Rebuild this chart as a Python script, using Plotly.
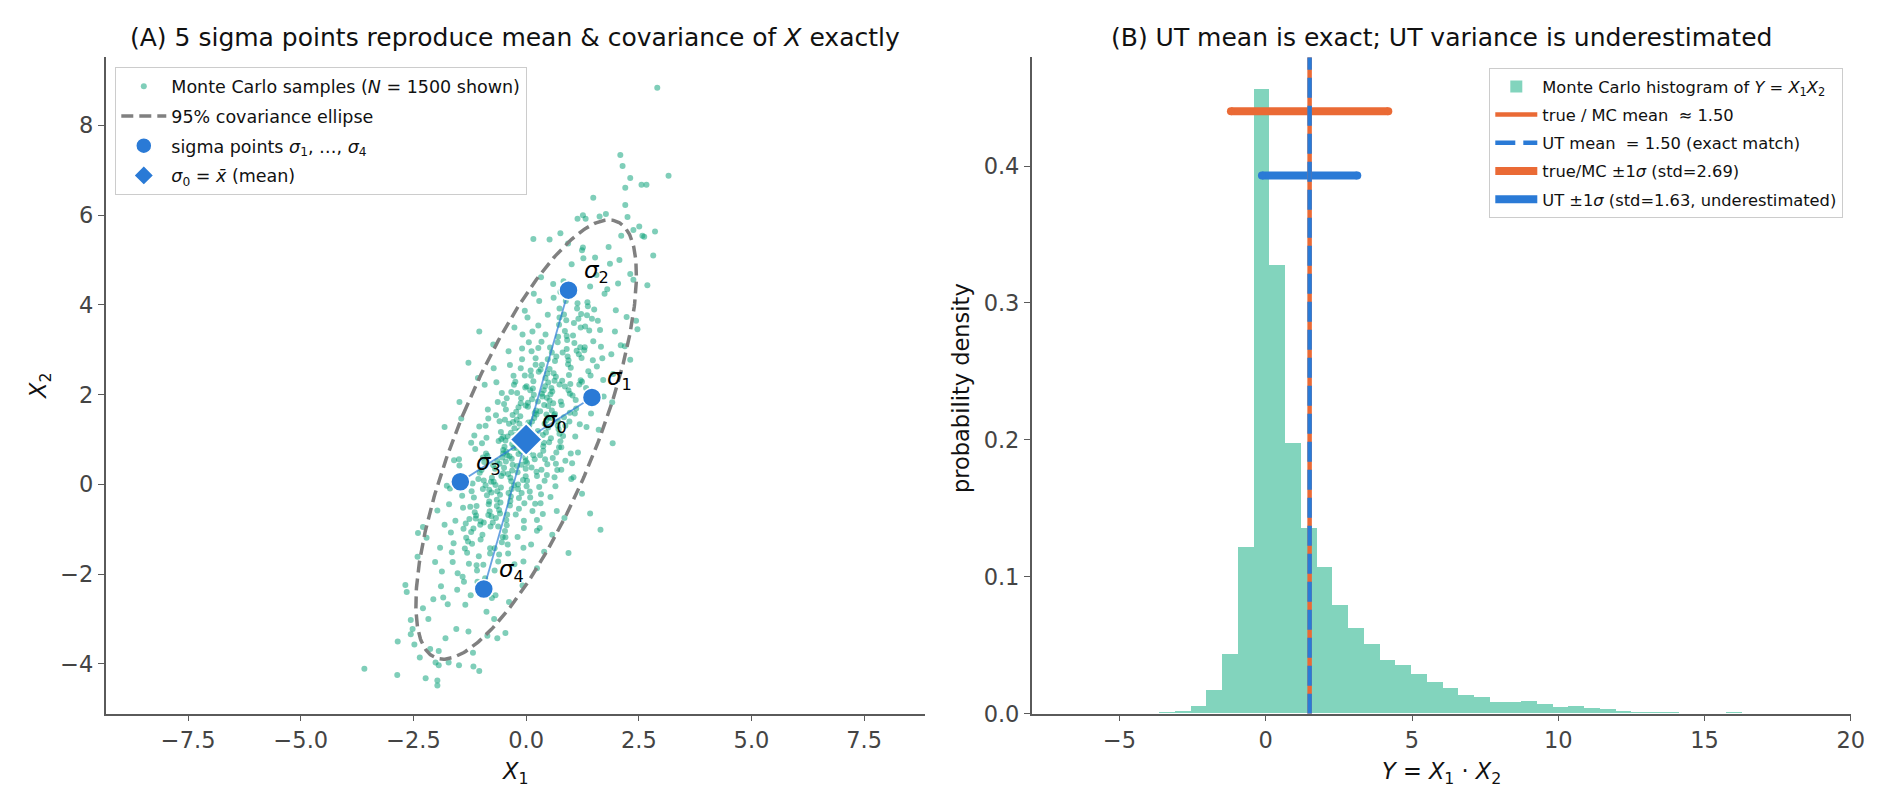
import numpy as np
import plotly.graph_objects as go

# ---------------- data ----------------
# Monte Carlo samples (X1, X2) - estimated positions of the visible cloud
mc_samples = [
    (0.13,1.40),(0.02,0.08),(0.21,2.81),(0.08,0.82),(0.17,2.00),(0.24,-1.03),(0.05,1.26),(0.11,2.42),(0.19,0.56),(0.03,3.72),
    (0.15,1.06),(0.22,1.65),(0.09,-0.29),(0.01,2.19),(0.18,0.90),(0.12,0.38),(0.06,3.17),(0.23,1.56),(0.14,-0.59),(0.04,1.82),
    (0.20,1.12),(0.10,2.54),(0.16,0.65),(0.07,1.32),(0.24,-1.87),(0.09,2.10),(0.01,-0.04),(0.18,1.48),(0.12,2.97),(0.06,0.73),
    (0.23,0.28),(0.14,3.41),(0.04,1.73),(0.20,-0.43),(0.10,1.19),(0.16,2.30),(0.07,0.98),(0.24,-0.79),(0.13,1.90),(0.02,0.48),
    (0.21,2.67),(0.08,-0.16),(0.17,4.25),(0.24,0.19),(0.05,1.38),(0.11,-1.34),(0.19,1.59),(0.03,0.79),(0.15,2.14),
    (-0.01,1.76),(-0.20,0.41),(-0.14,1.21),(-0.06,-1.72),(-0.22,1.00),(-0.10,-0.19),(-0.03,3.87),(-0.16,-0.54),(-0.24,2.29),(-0.07,0.10),
    (-0.13,1.52),(-0.19,-1.17),(-0.02,0.60),(-0.11,1.92),(-0.21,0.81),(-0.05,-0.81),(-0.15,1.35),(-0.09,3.03),(-0.18,-0.10),(-0.01,0.35),
    (-0.12,2.59),(-0.23,1.10),(-0.04,-0.42),(-0.17,1.72),(-0.08,-2.25),(-0.13,0.94),(-0.19,0.27),(-0.02,2.16),(-0.11,0.74),(-0.21,1.44),
    (-0.05,-0.97),(-0.15,1.18),(-0.09,2.79),(-0.18,0.00),(-0.01,0.52),(-0.12,1.81),(-0.23,-0.67),(-0.04,1.27),(-0.17,0.68),(-0.08,3.34),
    (-0.01,0.18),(-0.20,2.04),(-0.14,0.88),(-0.06,-1.41),(-0.22,1.62),(-0.10,0.44),(-0.03,2.43),(-0.16,-0.30),(-0.24,1.02),
    (0.40,-1.50),(0.47,2.47),(0.34,0.33),(0.26,1.85),(0.43,3.34),(0.37,1.10),(0.31,0.65),(0.48,3.78),(0.39,2.10),(0.29,-0.06),
    (0.45,1.56),(0.35,2.67),(0.41,1.35),(0.32,-0.42),(0.49,2.27),(0.38,0.85),(0.27,3.04),(0.46,0.21),(0.33,4.62),(0.42,0.56),
    (0.49,1.75),(0.30,-0.97),(0.36,1.96),(0.44,1.16),(0.28,2.51),(0.40,1.77),(0.47,0.45),(0.34,3.18),(0.26,1.19),(0.43,2.37),
    (0.37,-0.66),(0.31,1.63),(0.48,2.79),(0.39,0.93),(0.29,4.09),(0.45,1.43),(0.35,2.02),(0.41,0.08),(0.32,2.56),(0.49,1.27),
    (0.38,0.75),(0.27,3.54),(0.46,1.93),(0.33,-0.22),(0.42,2.19),(0.49,1.49),
    (-0.42,0.65),(-0.33,2.06),(-0.26,1.25),(-0.45,0.51),(-0.39,-0.19),(-0.31,0.31),(-0.47,-1.04),(-0.35,0.15),(-0.28,2.42),(-0.41,-1.34),
    (-0.49,0.37),(-0.32,-0.10),(-0.38,-2.62),(-0.44,-0.79),(-0.27,2.22),(-0.36,-0.47),(-0.46,0.98),(-0.30,0.44),(-0.40,0.23),(-0.34,1.15),
    (-0.43,1.92),(-0.26,3.50),(-0.37,0.63),(-0.48,0.84),(-0.29,1.39),(-0.42,-0.67),(-0.33,0.07),(-0.26,-1.78),(-0.45,1.67),(-0.39,2.97),
    (-0.31,0.90),(-0.47,1.44),(-0.35,-0.37),(-0.28,0.81),(-0.41,1.07),(-0.49,1.79),(-0.32,0.57),(-0.38,1.35),(-0.44,0.73),(-0.27,-0.02),
    (-0.36,2.66),(-0.46,-1.18),(-0.30,1.55),(-0.40,-1.54),(-0.34,-0.27),(-0.43,-0.91),
    (0.73,0.83),(0.64,1.57),(0.54,-0.28),(0.70,3.17),(0.60,4.47),(0.66,2.40),(0.57,2.94),(0.74,1.13),(0.63,2.31),(0.52,2.57),
    (0.71,3.29),(0.58,2.07),(0.67,2.85),(0.74,2.23),(0.55,1.48),(0.61,4.16),(0.69,0.32),(0.53,3.05),(0.65,-0.04),(0.72,1.23),
    (0.59,0.59),(0.51,0.94),(0.68,-0.59),(0.62,1.54),(0.56,2.15),(0.73,3.56),(0.64,2.75),(0.54,2.01),(0.70,1.31),(0.60,1.81),
    (0.66,0.46),(0.57,1.65),(0.74,3.92),(0.63,0.16),(0.52,1.87),(0.71,1.40),(0.58,-1.12),(0.67,0.71),(0.74,3.72),(0.55,1.03),(0.61,2.48),
    (-0.55,1.01),(-0.65,-0.34),(-0.59,0.46),(-0.68,-2.47),(-0.51,0.25),(-0.62,-0.94),(-0.73,3.12),(-0.54,-1.29),(-0.67,1.54),(-0.58,-0.65),
    (-0.51,0.77),(-0.70,-1.92),(-0.64,-0.15),(-0.56,1.17),(-0.72,0.06),(-0.60,-1.56),(-0.53,0.60),(-0.66,2.28),(-0.74,-0.85),(-0.57,-0.40),
    (-0.63,1.84),(-0.69,0.35),(-0.52,-1.17),(-0.61,0.97),(-0.71,-3.00),(-0.55,0.19),(-0.65,-0.48),(-0.59,1.41),(-0.68,-0.01),(-0.51,0.69),
    (-0.62,-1.72),(-0.73,0.43),(-0.54,2.04),(-0.67,-0.75),(-0.58,-0.23),(-0.51,1.06),(-0.70,-1.42),(-0.64,0.52),(-0.56,-0.07),(-0.72,2.59),(-0.60,-0.57),
    (0.86,2.18),(0.94,2.77),(0.78,0.83),(0.90,3.31),(0.97,2.02),(0.84,1.50),(0.76,4.29),(0.93,2.68),(0.87,0.53),(0.81,2.94),
    (0.98,2.24),(0.89,3.66),(0.79,1.77),(0.95,2.44),(0.85,-0.75),(0.91,3.22),(0.82,1.08),(0.99,2.60),(0.88,4.09),(0.77,1.85),
    (0.96,1.40),(0.83,4.53),(0.92,2.85),(0.99,0.69),(0.80,2.31),(0.86,3.42),(0.94,2.10),(0.78,0.33),(0.90,3.02),(0.97,1.60),
    (0.84,3.79),(0.76,0.96),(0.93,5.37),(0.87,1.31),
    (-0.82,-0.12),(-0.88,-2.84),(-0.94,0.09),(-0.77,-0.71),(-0.86,0.64),(-0.96,-0.10),(-0.80,-1.42),(-0.90,1.31),(-0.84,-0.68),(-0.93,0.50),
    (-0.76,-2.53),(-0.87,-0.24),(-0.98,0.92),(-0.79,-0.94),(-0.92,2.22),(-0.83,-0.44),(-0.76,0.15),(-0.95,-1.79),(-0.89,0.69),(-0.81,-0.60),
    (-0.97,-1.12),(-0.85,1.67),(-0.78,0.06),(-0.91,-2.09),(-0.99,0.32),(-0.82,-0.38),(-0.88,1.04),(-0.94,-0.85),(-0.77,-0.18),(-0.86,-3.37),
    (-0.96,0.60),(-0.80,-1.54),(-0.90,-0.02),(-0.84,1.47),
    (1.21,3.50),(1.08,4.31),(1.17,2.90),(1.24,2.29),(1.05,0.16),(1.11,1.69),(1.19,1.34),(1.03,1.98),(1.15,0.71),(1.22,3.80),
    (1.09,1.07),(1.01,4.91),(1.18,2.23),(1.12,2.98),(1.06,3.60),(1.23,2.82),(1.14,4.04),(1.04,3.32),(1.20,3.06),(1.10,1.88),
    (1.16,3.69),(1.07,3.15),(1.24,5.22),(1.13,3.92),(1.02,0.47),(1.21,2.32),(1.08,1.58),
    (-1.22,-1.06),(-1.10,-1.80),(-1.03,0.26),(-1.16,-0.29),(-1.24,-0.50),(-1.07,2.37),(-1.13,0.79),(-1.19,0.02),(-1.02,-0.90),(-1.11,-0.69),
    (-1.21,-0.15),(-1.05,-1.60),(-1.15,1.09),(-1.09,-1.92),(-1.18,-3.75),(-1.01,-1.23),(-1.12,-0.76),(-1.23,-2.47),(-1.04,1.29),(-1.17,-0.98),
    (-1.08,-2.17),(-1.01,-0.82),(-1.20,-1.32),(-1.14,-0.62),(-1.06,0.12),(-1.22,0.93),(-1.10,-0.48),
    (1.31,3.52),(1.44,1.58),(1.36,4.06),(1.48,2.77),(1.27,5.04),(1.40,3.43),(1.34,1.28),(1.46,3.69),(1.29,2.99),(1.42,4.41),
    (1.38,2.52),(1.49,3.19),(1.33,2.15),(1.26,5.28),(1.45,1.83),(1.37,3.97),(1.30,3.06),(1.43,2.43),(1.35,3.77),
    (-1.36,-1.43),(-1.47,0.17),(-1.28,-3.28),(-1.42,-0.25),(-1.33,-1.19),(-1.49,0.56),(-1.38,-2.17),(-1.26,-0.77),(-1.44,1.47),(-1.31,-1.52),
    (-1.40,-0.52),(-1.35,-2.68),(-1.46,0.05),(-1.29,-1.27),(-1.41,-2.06),(-1.34,-0.87),(-1.48,0.42),(-1.27,-1.77),(-1.39,-0.99),
    (1.59,3.65),(1.71,2.33),(1.53,5.06),(1.66,3.07),(1.74,4.25),(1.61,1.22),(1.56,4.67),(1.69,2.81),(1.63,5.97),(1.51,3.90),
    (1.72,1.96),(1.64,3.44),(1.57,2.63),
    (-1.63,-1.73),(-1.71,-0.44),(-1.55,-3.22),(-1.67,-1.07),(-1.52,-1.98),(-1.60,0.54),(-1.74,-2.67),(-1.57,-0.81),(-1.65,-1.51),(-1.69,-0.09),
    (-1.53,-2.35),(-1.61,-1.31),(-1.72,-3.97),
    (1.80,4.35),(1.93,2.46),(1.86,4.92),(1.97,3.41),(1.77,6.03),(1.89,2.90),(1.99,3.88),(1.83,5.29),(1.91,1.83),
    (-1.84,-2.52),(-1.97,-0.58),(-1.79,-3.43),(-1.91,-1.41),(-1.87,-1.94),(-1.76,-0.03),(-1.94,-4.03),(-1.81,-0.90),(-1.89,-2.27),
    (2.04,4.48),(2.19,3.08),(2.11,5.54),(2.23,3.73),(2.07,5.00),
    (-2.06,-2.56),(-2.21,-1.19),(-2.13,-3.67),(-2.02,-1.73),(-2.17,-3.00),
    (2.31,4.69),(2.44,3.65),(2.38,5.67),(-2.29,-2.76),(-2.41,-1.61),(-2.36,-3.86),
    (2.58,5.54),(2.69,4.44),(-2.56,-3.34),(-2.68,-2.24),(2.82,5.10),(-2.85,-3.50),
    (2.91,8.84),(2.09,7.34),(2.14,7.10),(2.31,6.83),(3.16,6.88),(2.56,6.68),(2.67,6.68),(2.20,6.61),(1.49,6.39),(2.20,6.23),
    (2.25,5.96),(1.26,6.00),(1.14,5.92),(1.32,5.92),(2.86,5.64),(2.62,5.52),(2.51,5.75),(2.47,3.46),(2.38,4.56),(2.10,3.10),
    (1.92,0.92),(2.31,2.78),(-1.04,3.41),(-1.28,2.71),(-1.81,1.28),(-1.48,1.84),(0.16,5.47),(0.52,5.46),(0.76,5.60),
    (-2.86,-4.25),(-2.23,-4.32),(-1.97,-4.37),(-1.97,-4.48),(-1.49,-4.03),(-1.17,-4.06),(-1.04,-4.16),(-2.01,-3.97),(-1.94,-3.71),(-2.48,-3.57),
    (-0.64,-3.43),(-0.46,-3.31),(-2.65,-2.40),(-2.56,-3.02),(-2.52,-3.22),(-2.40,-1.08),(-2.29,-0.95),(1.42,-0.65),(1.65,-1.01),(0.94,-1.53),
    (1.24,-0.21),(1.00,0.12),(-3.59,-4.11),
]

mean_x = [0.0, 1.0]                      # sigma_0 = mean
cov_x = [[1.0, 1.5], [1.5, 4.0]]         # covariance of X
chi2_95_2dof = 5.991                     # 95% ellipse scale

sigma_x1 = [1.46, 0.94, -1.46, -0.94]    # sigma_1..sigma_4
sigma_x2 = [1.94, 4.33, 0.06, -2.33]
sigma_names = ["1", "2", "3", "4"]

hist_first_edge = -3.65
hist_bin_width = 0.538
hist_density = [0.0010, 0.0016, 0.0054, 0.0168, 0.0437, 0.1216, 0.4560, 0.3275, 0.1976, 0.1356,
                0.1070, 0.0792, 0.0624, 0.0507, 0.0390, 0.0355, 0.0285, 0.0231, 0.0187, 0.0134,
                0.0119, 0.0083, 0.0083, 0.0090, 0.0068, 0.0046, 0.0054, 0.0039, 0.0032, 0.0017,
                0.0010, 0.0010, 0.0010, 0.0002, 0.0002, 0.0002, 0.0010, 0.0002, 0.0004, 0.0002,
                0.0002, 0.0000, 0.0002, 0.0000, 0.0002]

mc_mean_y = 1.50
ut_mean_y = 1.50
mc_std_y = 2.69
ut_std_y = 1.63

# ---------------- styles ----------------
BLUE = "#2A7AD6"
ORANGE = "#EA6A35"
GREEN_PT = "rgba(0,158,115,0.5)"
GREEN_HIST = "rgba(0,168,120,0.49)"
AXC = "#5a5a5a"
FONT = "DejaVu Sans"
TICK = 22.5

XD1 = [105.7 / 1890, 924.5 / 1890]
XD2 = [1031.7 / 1890, 1850.8 / 1890]
YD = [1 - 713.7 / 810, 1 - 57.3 / 810]
Y2TOP = 0.4794

fig = go.Figure()

# ---- panel A ----
mc_x1 = [p[0] for p in mc_samples]
mc_x2 = [p[1] for p in mc_samples]
fig.add_trace(go.Scatter(
    x=mc_x1, y=mc_x2, mode="markers", xaxis="x", yaxis="y",
    marker=dict(size=6, color=GREEN_PT, line=dict(width=0)),
    name="Monte Carlo samples (<i>N</i> = 1500 shown)", legend="legend", legendgroup="a1"))

vals, vecs = np.linalg.eigh(np.array(cov_x))
t = np.linspace(0, 2 * np.pi, 361)
circ = np.vstack([np.cos(t), np.sin(t)])
ell = vecs @ (np.sqrt(vals * chi2_95_2dof)[:, None] * circ) + np.array(mean_x)[:, None]
fig.add_trace(go.Scatter(
    x=ell[0], y=ell[1], mode="lines", xaxis="x", yaxis="y",
    line=dict(color="#808080", width=3.5, dash="12px,6px"),
    name="95% covariance ellipse", legend="legend", legendgroup="a2"))

lx, ly = [], []
for sx, sy in zip(sigma_x1, sigma_x2):
    lx += [mean_x[0], sx, None]
    ly += [mean_x[1], sy, None]
fig.add_trace(go.Scatter(
    x=lx, y=ly, mode="lines", xaxis="x", yaxis="y",
    line=dict(color="rgba(42,122,214,0.7)", width=1.8), showlegend=False, hoverinfo="skip"))

fig.add_trace(go.Scatter(
    x=sigma_x1, y=sigma_x2, mode="markers", xaxis="x", yaxis="y",
    marker=dict(size=19, color=BLUE, line=dict(color="white", width=1.5)),
    name="sigma points <i>σ</i><sub>1</sub>, …, <i>σ</i><sub>4</sub>", legend="legend", legendgroup="a3"))
fig.add_trace(go.Scatter(
    x=[mean_x[0]], y=[mean_x[1]], mode="markers", xaxis="x", yaxis="y",
    marker=dict(size=25, symbol="diamond", color=BLUE, line=dict(color="white", width=2)),
    name="<i>σ</i><sub>0</sub> = <i>x̄</i> (mean)", legend="legend", legendgroup="a4"))

# ---- panel B ----
hist_x = [hist_first_edge + hist_bin_width * (i + 0.5) for i in range(len(hist_density))]
fig.add_trace(go.Bar(
    x=hist_x, y=hist_density, width=hist_bin_width, xaxis="x2", yaxis="y2",
    marker=dict(color=GREEN_HIST, line=dict(width=0)),
    name="Monte Carlo histogram of <i>Y</i> = <i>X</i><sub>1</sub><i>X</i><sub>2</sub>",
    legend="legend2", legendgroup="b1", legendrank=1))

for m, s, yy, col, nm, rk in [
        (mc_mean_y, mc_std_y, 0.440, ORANGE, "true/MC ±1<i>σ</i> (std=2.69)", 4),
        (ut_mean_y, ut_std_y, 0.393, BLUE, "UT ±1<i>σ</i> (std=1.63, underestimated)", 5)]:
    fig.add_trace(go.Scatter(
        x=[m - s, m + s], y=[yy, yy], mode="lines", xaxis="x2", yaxis="y2",
        line=dict(color=col, width=8), name=nm, legend="legend2",
        legendgroup="b%d" % rk, legendrank=rk))
    fig.add_trace(go.Scatter(
        x=[m - s, m + s], y=[yy, yy], mode="markers", xaxis="x2", yaxis="y2",
        marker=dict(color=col, size=8, line=dict(width=0)), showlegend=False,
        legend="legend2", hoverinfo="skip"))

fig.add_trace(go.Scatter(
    x=[mc_mean_y, mc_mean_y], y=[0, Y2TOP], mode="lines", xaxis="x2", yaxis="y2",
    line=dict(color=ORANGE, width=4.5), name="true / MC mean  ≈ 1.50",
    legend="legend2", legendgroup="b2", legendrank=2))
fig.add_trace(go.Scatter(
    x=[ut_mean_y, ut_mean_y], y=[0, Y2TOP], mode="lines", xaxis="x2", yaxis="y2",
    line=dict(color=BLUE, width=4.5, dash="20px,8px"), name="UT mean  = 1.50 (exact match)",
    legend="legend2", legendgroup="b3", legendrank=3))

# ---- annotations ----
ann = []
for sx, sy, nm in zip([mean_x[0]] + sigma_x1, [mean_x[1]] + sigma_x2, ["0"] + sigma_names):
    ann.append(dict(x=sx, y=sy, xref="x", yref="y", showarrow=False, xshift=28, yshift=18,
                    xanchor="center", yanchor="middle",
                    text="<i>σ</i><sub>%s</sub>" % nm, font=dict(size=23, color="black")))

xc1 = (XD1[0] + XD1[1]) / 2
xc2 = (XD2[0] + XD2[1]) / 2


def paper_text(x, y, text, size, angle=0):
    return dict(x=x, y=y, xref="paper", yref="paper", showarrow=False, textangle=angle,
                xanchor="center", yanchor="middle", text=text,
                font=dict(size=size, color="#111"))


ann += [
    paper_text(xc1, 1 - 37 / 810,
               "(A) 5 sigma points reproduce mean &amp; covariance of <i>X</i> exactly", 25),
    paper_text(xc2, 1 - 37 / 810, "(B) UT mean is exact; UT variance is underestimated", 25),
    paper_text(xc1, 1 - 773 / 810, "<i>X</i><sub>1</sub>", TICK),
    paper_text(40 / 1890, 1 - 386 / 810, "<i>X</i><sub>2</sub>", TICK, -90),
    paper_text(961 / 1890, 1 - 388 / 810, "probability density", TICK, -90),
    paper_text(xc2, 1 - 773 / 810, "<i>Y</i> = <i>X</i><sub>1</sub> · <i>X</i><sub>2</sub>", TICK),
]

axis_common = dict(showline=True, linecolor=AXC, linewidth=1.5, ticks="outside", ticklen=6,
                   tickwidth=1.4, tickcolor=AXC, showgrid=False, zeroline=False,
                   tickfont=dict(size=TICK, color="#444"), automargin=False)

fig.update_layout(
    width=1890, height=810, margin=dict(l=0, r=0, t=0, b=0),
    paper_bgcolor="white", plot_bgcolor="white",
    font=dict(family=FONT, color="#222"),
    bargap=0,
    xaxis=dict(domain=XD1, range=[-9.33, 8.84], anchor="y",
               tickvals=[-7.5, -5.0, -2.5, 0.0, 2.5, 5.0, 7.5], tickformat=".1f", **axis_common),
    yaxis=dict(domain=YD, range=[-5.11, 9.52], anchor="x",
               tickvals=[-4, -2, 0, 2, 4, 6, 8], **axis_common),
    xaxis2=dict(domain=XD2, range=[-8, 20], anchor="y2",
                tickvals=[-5, 0, 5, 10, 15, 20], **axis_common),
    yaxis2=dict(domain=YD, range=[0, Y2TOP], anchor="x2",
                tickvals=[0, 0.1, 0.2, 0.3, 0.4], tickformat=".1f", **axis_common),
    legend=dict(x=115 / 1890, y=1 - 67 / 810, xanchor="left", yanchor="top",
                bgcolor="rgba(255,255,255,0.8)", bordercolor="#cccccc", borderwidth=1.3,
                font=dict(size=17.5, color="#111", family=FONT), traceorder="grouped",
                tracegroupgap=4, itemwidth=45),
    legend2=dict(x=1843 / 1890, y=1 - 68 / 810, xanchor="right", yanchor="top",
                 bgcolor="rgba(255,255,255,0.8)", bordercolor="#cccccc", borderwidth=1.3,
                 font=dict(size=16.3, color="#111", family=FONT), traceorder="grouped",
                 tracegroupgap=4, itemwidth=42),
    annotations=ann,
)

fig.write_html("out.html")
